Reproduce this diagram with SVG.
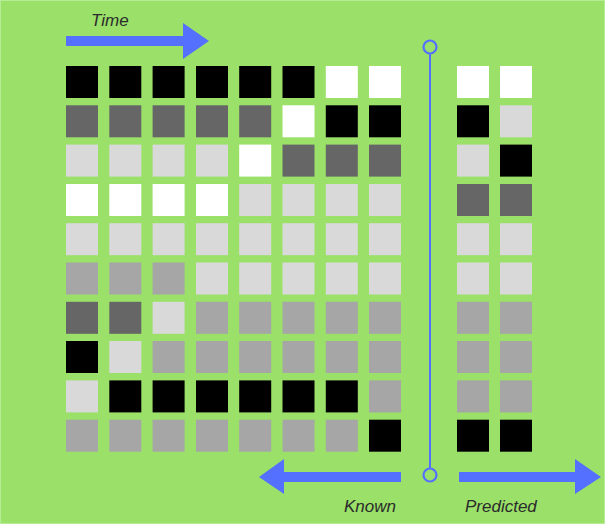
<svg xmlns="http://www.w3.org/2000/svg" width="605" height="524" viewBox="0 0 605 524">
<style>
.k{fill:#000}.d{fill:#666}.m{fill:#a6a6a6}.l{fill:#d9d9d9}.w{fill:#fff}
rect.c{width:32px;height:32px}
.arrow{fill:#5470ff}
.lbl{font-family:"Liberation Sans",Arial,sans-serif;font-style:italic;font-size:17px;fill:#2b2b2b}
</style>
<defs>
<rect id="sq" width="32" height="32"/>
</defs>
<rect x="0" y="0" width="605" height="524" fill="#9ae069"/>
<rect x="0.5" y="0.5" width="604" height="523" fill="none" stroke="#b6ec95" stroke-width="1"/>

<g id="time-label"><text class="lbl" x="91" y="26">Time</text></g>
<g id="time-arrow"><polygon class="arrow" points="66,36 183,36 183,23 209,41 183,59 183,46 66,46"/></g>

<g id="known-grid">
<!-- row 1 -->
<use href="#sq" class="k" x="66" y="66"/><use href="#sq" class="k" x="109.3" y="66"/><use href="#sq" class="k" x="152.6" y="66"/><use href="#sq" class="k" x="196" y="66"/><use href="#sq" class="k" x="239.2" y="66"/><use href="#sq" class="k" x="282.5" y="66"/><use href="#sq" class="w" x="325.8" y="66"/><use href="#sq" class="w" x="369" y="66"/>
<!-- row 2 -->
<use href="#sq" class="d" x="66" y="105.3"/><use href="#sq" class="d" x="109.3" y="105.3"/><use href="#sq" class="d" x="152.6" y="105.3"/><use href="#sq" class="d" x="196" y="105.3"/><use href="#sq" class="d" x="239.2" y="105.3"/><use href="#sq" class="w" x="282.5" y="105.3"/><use href="#sq" class="k" x="325.8" y="105.3"/><use href="#sq" class="k" x="369" y="105.3"/>
<!-- row 3 -->
<use href="#sq" class="l" x="66" y="144.6"/><use href="#sq" class="l" x="109.3" y="144.6"/><use href="#sq" class="l" x="152.6" y="144.6"/><use href="#sq" class="l" x="196" y="144.6"/><use href="#sq" class="w" x="239.2" y="144.6"/><use href="#sq" class="d" x="282.5" y="144.6"/><use href="#sq" class="d" x="325.8" y="144.6"/><use href="#sq" class="d" x="369" y="144.6"/>
<!-- row 4 -->
<use href="#sq" class="w" x="66" y="184"/><use href="#sq" class="w" x="109.3" y="184"/><use href="#sq" class="w" x="152.6" y="184"/><use href="#sq" class="w" x="196" y="184"/><use href="#sq" class="l" x="239.2" y="184"/><use href="#sq" class="l" x="282.5" y="184"/><use href="#sq" class="l" x="325.8" y="184"/><use href="#sq" class="l" x="369" y="184"/>
<!-- row 5 -->
<use href="#sq" class="l" x="66" y="223.2"/><use href="#sq" class="l" x="109.3" y="223.2"/><use href="#sq" class="l" x="152.6" y="223.2"/><use href="#sq" class="l" x="196" y="223.2"/><use href="#sq" class="l" x="239.2" y="223.2"/><use href="#sq" class="l" x="282.5" y="223.2"/><use href="#sq" class="l" x="325.8" y="223.2"/><use href="#sq" class="l" x="369" y="223.2"/>
<!-- row 6 -->
<use href="#sq" class="m" x="66" y="262.5"/><use href="#sq" class="m" x="109.3" y="262.5"/><use href="#sq" class="m" x="152.6" y="262.5"/><use href="#sq" class="l" x="196" y="262.5"/><use href="#sq" class="l" x="239.2" y="262.5"/><use href="#sq" class="l" x="282.5" y="262.5"/><use href="#sq" class="l" x="325.8" y="262.5"/><use href="#sq" class="l" x="369" y="262.5"/>
<!-- row 7 -->
<use href="#sq" class="d" x="66" y="301.8"/><use href="#sq" class="d" x="109.3" y="301.8"/><use href="#sq" class="l" x="152.6" y="301.8"/><use href="#sq" class="m" x="196" y="301.8"/><use href="#sq" class="m" x="239.2" y="301.8"/><use href="#sq" class="m" x="282.5" y="301.8"/><use href="#sq" class="m" x="325.8" y="301.8"/><use href="#sq" class="m" x="369" y="301.8"/>
<!-- row 8 -->
<use href="#sq" class="k" x="66" y="341"/><use href="#sq" class="l" x="109.3" y="341"/><use href="#sq" class="m" x="152.6" y="341"/><use href="#sq" class="m" x="196" y="341"/><use href="#sq" class="m" x="239.2" y="341"/><use href="#sq" class="m" x="282.5" y="341"/><use href="#sq" class="m" x="325.8" y="341"/><use href="#sq" class="m" x="369" y="341"/>
<!-- row 9 -->
<use href="#sq" class="l" x="66" y="380.4"/><use href="#sq" class="k" x="109.3" y="380.4"/><use href="#sq" class="k" x="152.6" y="380.4"/><use href="#sq" class="k" x="196" y="380.4"/><use href="#sq" class="k" x="239.2" y="380.4"/><use href="#sq" class="k" x="282.5" y="380.4"/><use href="#sq" class="k" x="325.8" y="380.4"/><use href="#sq" class="m" x="369" y="380.4"/>
<!-- row 10 -->
<use href="#sq" class="m" x="66" y="419.7"/><use href="#sq" class="m" x="109.3" y="419.7"/><use href="#sq" class="m" x="152.6" y="419.7"/><use href="#sq" class="m" x="196" y="419.7"/><use href="#sq" class="m" x="239.2" y="419.7"/><use href="#sq" class="m" x="282.5" y="419.7"/><use href="#sq" class="m" x="325.8" y="419.7"/><use href="#sq" class="k" x="369" y="419.7"/>
</g>

<g id="predicted-grid">
<use href="#sq" class="w" x="457" y="66"/><use href="#sq" class="w" x="500" y="66"/>
<use href="#sq" class="k" x="457" y="105.3"/><use href="#sq" class="l" x="500" y="105.3"/>
<use href="#sq" class="l" x="457" y="144.6"/><use href="#sq" class="k" x="500" y="144.6"/>
<use href="#sq" class="d" x="457" y="184"/><use href="#sq" class="d" x="500" y="184"/>
<use href="#sq" class="l" x="457" y="223.2"/><use href="#sq" class="l" x="500" y="223.2"/>
<use href="#sq" class="l" x="457" y="262.5"/><use href="#sq" class="l" x="500" y="262.5"/>
<use href="#sq" class="m" x="457" y="301.8"/><use href="#sq" class="m" x="500" y="301.8"/>
<use href="#sq" class="m" x="457" y="341"/><use href="#sq" class="m" x="500" y="341"/>
<use href="#sq" class="m" x="457" y="380.4"/><use href="#sq" class="m" x="500" y="380.4"/>
<use href="#sq" class="k" x="457" y="419.7"/><use href="#sq" class="k" x="500" y="419.7"/>
</g>

<g id="divider">
<line x1="430" y1="54" x2="430" y2="468" stroke="#5470ff" stroke-width="2"/>
<circle cx="430" cy="47" r="6.5" fill="none" stroke="#5470ff" stroke-width="2.2"/>
<circle cx="430" cy="475" r="6.5" fill="none" stroke="#5470ff" stroke-width="2.2"/>
</g>

<g id="connectors">
<polygon id="known-arrow" class="arrow" points="401,472 284,472 284,459 259,477 284,494 284,482 401,482"/>
<polygon id="predicted-arrow" class="arrow" points="459,472 575,472 575,459 601,477 575,494 575,482 459,482"/>
</g>

<g id="known-label"><text class="lbl" x="344" y="512">Known</text></g>
<g id="predicted-label"><text class="lbl" x="465" y="512">Predicted</text></g>
</svg>
